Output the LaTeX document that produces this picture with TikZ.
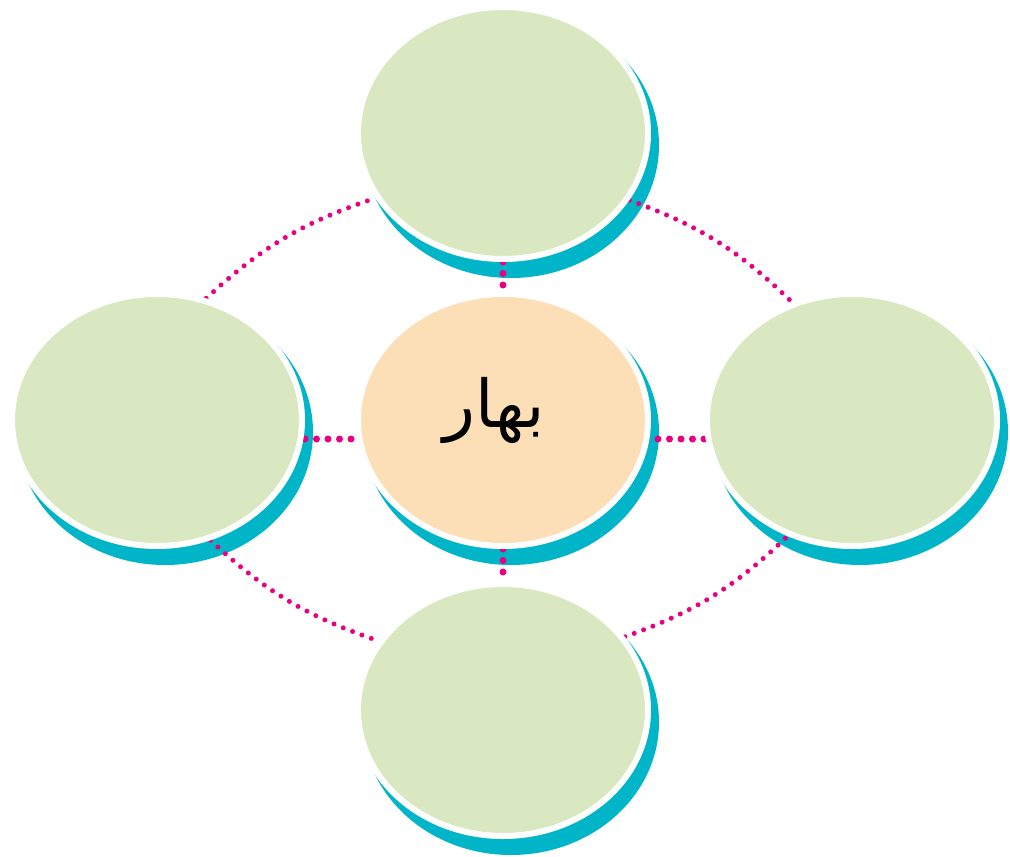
\documentclass[tikz,border=0pt]{standalone}
\usepackage{fontspec}
\usetikzlibrary{shapes.geometric}
\newfontfamily\arabicfont[Script=Arabic]{DejaVu Sans}
\TeXXeTstate=1
\definecolor{leaf}{RGB}{217,232,192}
\definecolor{peach}{RGB}{252,222,183}
\definecolor{teal2}{RGB}{0,181,200}
\definecolor{pinkdot}{RGB}{232,0,128}
\begin{document}
\begin{tikzpicture}[x=1pt,y=-1pt,
  bubble/.style={ellipse,draw=white,line width=6pt,minimum width=290pt,minimum height=252pt,inner sep=0pt,fill=leaf},
  shade/.style={ellipse,fill=teal2,minimum width=296pt,minimum height=266pt,inner sep=0pt},
  outerdots/.style={pinkdot,line width=5pt,line cap=round,dash pattern=on 0pt off 10pt},
  innerdots/.style={pinkdot,line width=7pt,line cap=round,dash pattern=on 0pt off 11.5pt}]
\useasboundingbox (0,0) rectangle (1010,857);
% shadows
\node[shade] (Ts) at (511,145) {};
\node[shade] (Ls) at (165,432) {};
\node[shade] (Cs) at (511,432) {};
\node[shade] (Rs) at (860,432) {};
\node[shade] (Bs) at (511,722) {};
% coordinates of the bubbles for connectors
\coordinate (Tc) at (503,133);
\coordinate (Lc) at (157,420);
\coordinate (Cc) at (503,420);
\coordinate (Rc) at (852,420);
\coordinate (Bc) at (503,710);
\node[bubble,draw=none,fill=none] (T) at (Tc) {};
\node[bubble,draw=none,fill=none] (L) at (Lc) {};
\node[bubble,draw=none,fill=none] (C) at (Cc) {};
\node[bubble,draw=none,fill=none] (R) at (Rc) {};
\node[bubble,draw=none,fill=none] (B) at (Bc) {};
% connectors
\draw[outerdots] (L.68) to[bend left=12] (T.207);
\draw[outerdots] (T.-28) to[bend left=12] (R.117);
\draw[outerdots] (B.31) to[bend right=12] (R.241);
\draw[outerdots] (L.-66) to[bend right=12] (B.151);
\draw[innerdots] ([yshift=-19pt]L.east) -- ([yshift=-19pt]C.west);
\draw[innerdots] ([yshift=-19pt]R.west) -- ([yshift=-19pt]C.east);
\draw[innerdots] (T.south) -- (C.north);
\draw[innerdots] (C.south) -- (B.north);
% bubbles
\node[bubble] at (Tc) {};
\node[bubble] at (Lc) {};
\node[bubble,fill=peach] at (Cc) {};
\node[bubble] at (Rc) {};
\node[bubble] at (Bc) {};
\node[font=\arabicfont\fontsize{66}{72}\selectfont] (word) at (494,410) {\beginR بهار\endR};
\end{tikzpicture}
\end{document}
